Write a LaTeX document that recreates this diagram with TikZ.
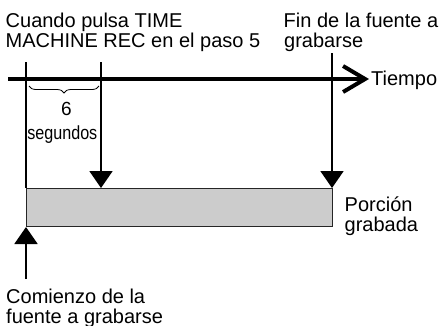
\documentclass[tikz,border=0pt]{standalone}
\usepackage{fontspec}
\setmainfont{Liberation Sans}
\usetikzlibrary{arrows.meta,decorations.pathreplacing}
\begin{document}
\begin{tikzpicture}[x=1pt,y=-1pt,
  lbl/.style={anchor=base west,inner sep=0pt,font=\fontsize{20}{24}\selectfont},
  small/.style={anchor=base,inner sep=0pt,font=\fontsize{19}{22}\selectfont},
  timeline/.style={line width=4pt,-{Straight Barb[length=22pt,width=26pt,line width=4pt]}},
  marker/.style={line width=2pt},
  downarrow/.style={line width=2pt,-{Triangle[length=17pt,width=23pt]}},
  portion/.style={fill=black!20,draw=black!85,line width=1pt}]
\useasboundingbox (0,0) rectangle (440,325);
% timeline
\coordinate (tstart) at (8,79);
\coordinate (tend) at (369,79);
\draw[timeline] (tstart) -- (tend);
\node[lbl] (tiempo) at (371,85) {Tiempo};
% recorded portion
\node[portion,inner sep=0pt,minimum width=306pt,minimum height=38pt,anchor=north west] (box) at (26,188) {};
% markers
\coordinate (m1top) at (26,62);
\coordinate (m2top) at (101,62);
\coordinate (m3top) at (332,53);
\coordinate (m2bot) at (101,188);
\coordinate (m3bot) at (332,188);
\coordinate (upbot) at (26,279);
\draw[marker] (m1top) -- (box.north west);
\draw[downarrow] (m2top) -- (m2bot);
\draw[downarrow] (m3top) -- (m3bot);
\draw[downarrow] (upbot) -- (box.south west);
% brace
\coordinate (b1) at (29,86);
\coordinate (b2) at (99,86);
\draw[line width=0.8pt,decorate,decoration={brace,mirror,amplitude=7pt}] (b1) -- (b2);
\node[small] (six) at (66.5,115) {6};
\node[small] (seg) at (62.3,139) {\scalebox{0.85}[1]{segundos}};
% labels
\node[lbl] (c1) at (5.5,27) {Cuando pulsa TIME};
\node[lbl] (c2) at (5.5,47) {MACHINE REC en el paso 5};
\node[lbl] (f1) at (283.5,27) {Fin de la fuente a};
\node[lbl] (f2) at (284,47) {grabarse};
\node[lbl] (p1) at (344.5,211) {Porción};
\node[lbl] (p2) at (344.5,231) {grabada};
\node[lbl] (s1) at (6,303) {Comienzo de la};
\node[lbl] (s2) at (6,323) {fuente a grabarse};
\end{tikzpicture}
\end{document}
